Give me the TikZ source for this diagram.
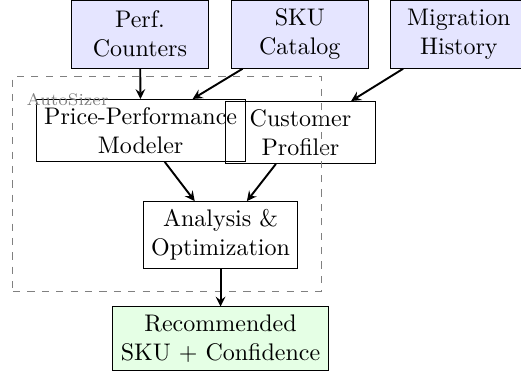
\documentclass[tikz,border=0pt]{standalone}
\usetikzlibrary{fit}

\begin{document}
\begin{tikzpicture}[>=stealth,
        srcbox/.style={rectangle, draw, fill=blue!10, minimum width=2cm, minimum height=1cm, align=center},
        procbox/.style={rectangle, draw, minimum width=2.2cm, align=center},
        outbox/.style={rectangle, draw, fill=green!10, align=center}]
        \useasboundingbox (0, 0) rectangle (7.63, 5.45);

        % Inputs
        \node[srcbox] at (2.05, 4.95)  (perf)    {Perf.\\Counters};
        \node[srcbox] at (4.39, 4.95)  (sku)     {SKU\\Catalog};
        \node[srcbox] at (6.72, 4.95)  (mig)     {Migration\\History};

        % AutoSizer
        \node[procbox] at (2.06, 3.54)  (ppm)    {Price-Performance\\Modeler};
        \node[procbox] at (4.40, 3.51)  (cust)   {Customer\\Profiler};
        \node[procbox] at (3.23, 2.01)  (ana)    {Analysis \&\\Optimization};

        \node[draw=gray, dashed, fit=(ppm)(ana), inner sep=9.5pt] (autosizer) {};
        \node[anchor=base west, inner sep=0pt, font=\scriptsize, text=gray, xshift=0.2cm, yshift=-0.43cm] at (autosizer.north west) (autolbl) {AutoSizer};

        % Output
        \node[outbox] at (3.23, 0.49)  (rec)     {Recommended\\SKU + Confidence};

        \draw[->, thick]  (perf) edge (ppm);
        \draw[->, thick]  (sku) edge (ppm);
        \draw[->, thick]  (mig) edge (cust);
        \draw[->, thick]  (ppm) edge (ana);
        \draw[->, thick]  (cust) edge (ana);
        \draw[->, thick]  (ana) edge (rec);

    \end{tikzpicture}
\end{document}
